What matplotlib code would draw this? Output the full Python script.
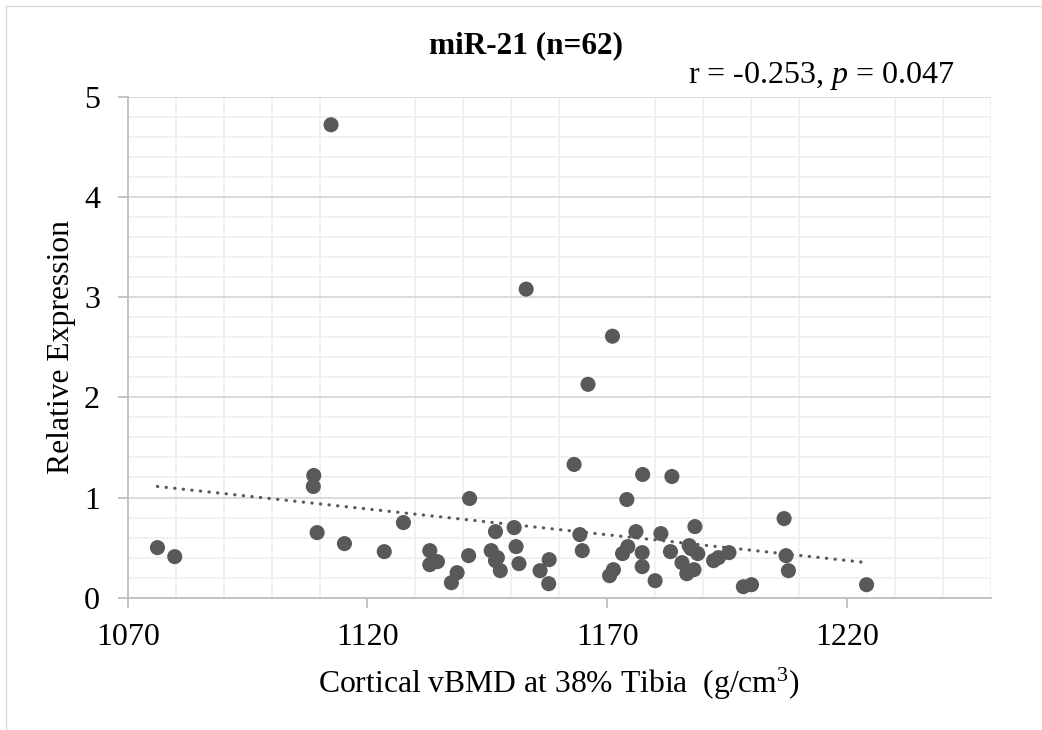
import numpy as np
import matplotlib
matplotlib.use("Agg")
import matplotlib.pyplot as plt
from matplotlib.lines import Line2D
from matplotlib.ticker import MultipleLocator

plt.rcParams["font.family"] = "Liberation Serif"
plt.rcParams["mathtext.fontset"] = "custom"
plt.rcParams["mathtext.rm"] = "Liberation Serif"
plt.rcParams["mathtext.it"] = "Liberation Serif:italic"

# Données
vbmd = [1076.2, 1079.8, 1112.4, 1108.8, 1108.7, 1109.5, 1115.2, 1123.5, 1127.5, 1133.0,
        1133.0, 1134.6, 1137.5, 1138.7, 1141.1, 1141.3, 1145.8, 1146.7, 1146.7, 1147.1,
        1147.7, 1150.6, 1151.0, 1151.6, 1153.1, 1156.0, 1157.9, 1157.8, 1163.1, 1164.3,
        1164.8, 1166.0, 1170.5, 1171.3, 1171.1, 1173.2, 1174.1, 1174.3, 1176.0, 1177.3,
        1177.3, 1177.4, 1180.0, 1181.2, 1183.2, 1183.5, 1185.6, 1186.6, 1187.1, 1187.5,
        1188.3, 1188.1, 1188.9, 1192.2, 1193.2, 1195.4, 1198.4, 1200.1, 1206.9, 1207.3,
        1207.8, 1224.1]
expression = [0.50, 0.41, 4.72, 1.22, 1.11, 0.65, 0.54, 0.46, 0.75, 0.47,
              0.33, 0.36, 0.15, 0.25, 0.42, 0.99, 0.47, 0.66, 0.37, 0.40,
              0.27, 0.70, 0.51, 0.34, 3.08, 0.27, 0.38, 0.14, 1.33, 0.63,
              0.47, 2.13, 0.22, 0.28, 2.61, 0.44, 0.98, 0.51, 0.66, 0.45,
              0.31, 1.23, 0.17, 0.64, 0.46, 1.21, 0.35, 0.24, 0.52, 0.49,
              0.71, 0.28, 0.44, 0.37, 0.40, 0.45, 0.11, 0.13, 0.79, 0.42,
              0.27, 0.13]
x_ticks = [1070, 1120, 1170, 1220]
y_ticks = [0, 1, 2, 3, 4, 5]

x = np.array(vbmd)
y = np.array(expression)

fig = plt.figure(figsize=(10.42, 7.30), dpi=100)
ax = fig.add_axes([0.1226, 0.1812, 0.8282, 0.6863])

# Grille
ax.set_xlim(1070, 1250)
ax.set_ylim(0, 5)
ax.xaxis.set_minor_locator(MultipleLocator(10))
ax.yaxis.set_minor_locator(MultipleLocator(0.2))
ax.set_xticks(x_ticks)
ax.set_yticks(y_ticks)
ax.grid(which="minor", axis="both", color="#f0f0f0", lw=1.3, zorder=0)
ax.grid(which="major", axis="y", color="#d9d9d9", lw=1.3, zorder=0)
ax.set_axisbelow(True)

# Points + tendance linéaire
ax.scatter(x, y, s=118, color="#595959", edgecolors="none", zorder=3)
a, b = np.polyfit(x, y, 1)
xs = np.array([x.min(), x.max()])
ax.plot(xs, a * xs + b, color="#595959", lw=2.3, linestyle=(0, (0.1, 2.6)),
        dash_capstyle="round", zorder=2)

for s in ["top", "right"]:
    ax.spines[s].set_visible(False)
for s in ["left", "bottom"]:
    ax.spines[s].set_color("#bfbfbf")
    ax.spines[s].set_linewidth(1.3)

ax.tick_params(which="major", length=7, width=1.3, color="#bfbfbf",
               labelsize=23, pad=11)
ax.tick_params(axis="y", which="major", pad=13)
ax.tick_params(which="minor", length=0)

ax.set_xlabel(r"Cortical vBMD at 38% Tibia  (g/cm$^{3}$)", fontsize=22.8, labelpad=10)
ax.set_ylabel("Relative Expression", fontsize=22.8, labelpad=6)

fig.text(0.505, 1 - 46 / 730, "miR-21 (n=62)", fontsize=22.5, fontweight="bold",
         ha="center", va="center")
fig.text(0.9165, 1 - 83 / 730, r"r = -0.253, $p$ = 0.047", fontsize=23,
         ha="right", va="baseline")

# Cadre du graphique
fig.add_artist(Line2D([0.0055, 1], [1 - 5.5 / 730, 1 - 5.5 / 730],
                      transform=fig.transFigure, color="#d9d9d9", lw=1))
fig.add_artist(Line2D([0.0055, 0.0055], [0, 1 - 5.5 / 730],
                      transform=fig.transFigure, color="#d9d9d9", lw=1))

fig.savefig("out.png", dpi=100)
